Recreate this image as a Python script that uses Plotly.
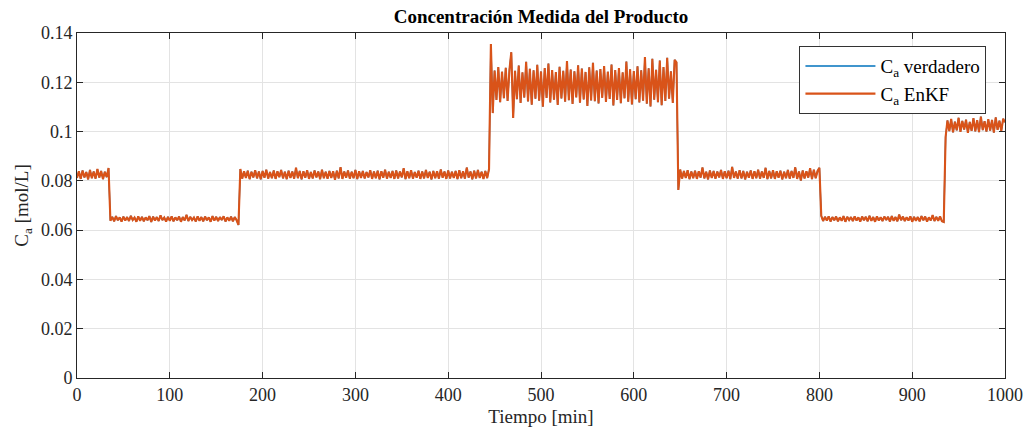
import numpy as np
import plotly.graph_objects as go

# ---------------- data ----------------
sample_period_min = 2
seg_start_min = [0, 36, 176, 446, 648, 802, 936]

seg_a = [0.0812, 0.0839, 0.0808, 0.0842, 0.0814, 0.0836, 0.0806, 0.0844, 0.0811, 0.0838,
         0.0809, 0.0848, 0.0813, 0.0840, 0.0807, 0.0837, 0.0815, 0.0852]
seg_b = [0.0638, 0.0654, 0.0636, 0.0657, 0.0640, 0.0652, 0.0635, 0.0655, 0.0639, 0.0653,
         0.0637, 0.0658, 0.0641, 0.0651, 0.0634, 0.0656, 0.0638, 0.0654, 0.0636, 0.0652,
         0.0640, 0.0657, 0.0633, 0.0655, 0.0639, 0.0653, 0.0637, 0.0660, 0.0641, 0.0651,
         0.0635, 0.0654, 0.0638, 0.0656, 0.0636, 0.0652, 0.0640, 0.0655, 0.0634, 0.0653,
         0.0639, 0.0662, 0.0637, 0.0654, 0.0641, 0.0651, 0.0635, 0.0656, 0.0638, 0.0653,
         0.0636, 0.0655, 0.0640, 0.0652, 0.0634, 0.0657, 0.0639, 0.0654, 0.0637, 0.0653,
         0.0641, 0.0656, 0.0635, 0.0652, 0.0638, 0.0655, 0.0636, 0.0653, 0.0640, 0.0621]
seg_c = [0.0848, 0.0809, 0.0839, 0.0812, 0.0841, 0.0807, 0.0837, 0.0814, 0.0843, 0.0810,
         0.0838, 0.0806, 0.0840, 0.0813, 0.0845, 0.0809, 0.0836, 0.0811, 0.0842, 0.0808,
         0.0839, 0.0815, 0.0844, 0.0810, 0.0837, 0.0807, 0.0841, 0.0812, 0.0838, 0.0809,
         0.0853, 0.0811, 0.0840, 0.0806, 0.0839, 0.0813, 0.0843, 0.0808, 0.0836, 0.0810,
         0.0842, 0.0814, 0.0838, 0.0807, 0.0845, 0.0811, 0.0837, 0.0809, 0.0840, 0.0812,
         0.0839, 0.0804, 0.0841, 0.0810, 0.0856, 0.0808, 0.0838, 0.0813, 0.0842, 0.0809,
         0.0837, 0.0811, 0.0844, 0.0807, 0.0839, 0.0812, 0.0840, 0.0810, 0.0836, 0.0814,
         0.0843, 0.0808, 0.0838, 0.0811, 0.0841, 0.0806, 0.0839, 0.0813, 0.0845, 0.0809,
         0.0837, 0.0812, 0.0840, 0.0808, 0.0842, 0.0810, 0.0838, 0.0814, 0.0851, 0.0807,
         0.0839, 0.0811, 0.0843, 0.0809, 0.0836, 0.0813, 0.0841, 0.0808, 0.0838, 0.0810,
         0.0844, 0.0812, 0.0837, 0.0806, 0.0840, 0.0811, 0.0839, 0.0809, 0.0846, 0.0813,
         0.0838, 0.0808, 0.0842, 0.0810, 0.0837, 0.0812, 0.0840, 0.0807, 0.0843, 0.0811,
         0.0839, 0.0809, 0.0854, 0.0813, 0.0838, 0.0806, 0.0841, 0.0810, 0.0844, 0.0812,
         0.0837, 0.0808, 0.0840, 0.0811, 0.0848]
seg_d = [0.1355, 0.1075, 0.1248, 0.1128, 0.1262, 0.1119, 0.1243, 0.1135, 0.1259, 0.1124,
         0.1251, 0.1322, 0.1055, 0.1247, 0.1131, 0.1268, 0.1116, 0.1240, 0.1138, 0.1283,
         0.1122, 0.1255, 0.1109, 0.1249, 0.1133, 0.1271, 0.1125, 0.1244, 0.1101, 0.1258,
         0.1136, 0.1276, 0.1118, 0.1250, 0.1129, 0.1241, 0.1108, 0.1263, 0.1134, 0.1247,
         0.1121, 0.1286, 0.1127, 0.1252, 0.1112, 0.1245, 0.1139, 0.1269, 0.1117, 0.1256,
         0.1130, 0.1242, 0.1104, 0.1261, 0.1126, 0.1279, 0.1123, 0.1248, 0.1114, 0.1254,
         0.1137, 0.1266, 0.1120, 0.1243, 0.1132, 0.1272, 0.1106, 0.1250, 0.1128, 0.1258,
         0.1115, 0.1240, 0.1135, 0.1284, 0.1121, 0.1253, 0.1110, 0.1246, 0.1131, 0.1265,
         0.1118, 0.1249, 0.1125, 0.1302, 0.1113, 0.1257, 0.1102, 0.1295, 0.1129, 0.1251,
         0.1119, 0.1288, 0.1107, 0.1262, 0.1124, 0.1299, 0.1133, 0.1245, 0.1116, 0.1291,
         0.1281]
seg_e = [0.0763, 0.0846, 0.0809, 0.0840, 0.0812, 0.0843, 0.0807, 0.0838, 0.0811, 0.0841,
         0.0808, 0.0839, 0.0813, 0.0854, 0.0810, 0.0837, 0.0806, 0.0842, 0.0812, 0.0840,
         0.0809, 0.0838, 0.0814, 0.0844, 0.0808, 0.0839, 0.0811, 0.0841, 0.0807, 0.0857,
         0.0812, 0.0838, 0.0809, 0.0843, 0.0810, 0.0840, 0.0806, 0.0837, 0.0813, 0.0842,
         0.0808, 0.0839, 0.0811, 0.0845, 0.0809, 0.0838, 0.0812, 0.0853, 0.0807, 0.0840,
         0.0810, 0.0843, 0.0808, 0.0839, 0.0813, 0.0841, 0.0806, 0.0837, 0.0811, 0.0844,
         0.0809, 0.0840, 0.0812, 0.0855, 0.0808, 0.0838, 0.0801, 0.0842, 0.0810, 0.0839,
         0.0813, 0.0851, 0.0807, 0.0845, 0.0811, 0.0840, 0.0853]
seg_f = [0.0658, 0.0637, 0.0654, 0.0639, 0.0656, 0.0635, 0.0653, 0.0640, 0.0655, 0.0636,
         0.0652, 0.0638, 0.0657, 0.0634, 0.0654, 0.0641, 0.0653, 0.0637, 0.0656, 0.0639,
         0.0652, 0.0635, 0.0655, 0.0640, 0.0654, 0.0636, 0.0658, 0.0638, 0.0653, 0.0634,
         0.0656, 0.0639, 0.0652, 0.0637, 0.0655, 0.0641, 0.0654, 0.0635, 0.0657, 0.0638,
         0.0653, 0.0636, 0.0663, 0.0640, 0.0655, 0.0637, 0.0652, 0.0639, 0.0656, 0.0634,
         0.0654, 0.0638, 0.0653, 0.0636, 0.0657, 0.0640, 0.0655, 0.0635, 0.0652, 0.0639,
         0.0661, 0.0637, 0.0654, 0.0638, 0.0656, 0.0636, 0.0633]
seg_g = [0.0978, 0.1045, 0.1002, 0.1051, 0.0997, 0.1040, 0.1005, 0.1056, 0.0999, 0.1043,
         0.1008, 0.1048, 0.0995, 0.1039, 0.1003, 0.1054, 0.1001, 0.1046, 0.0998, 0.1061,
         0.1006, 0.1042, 0.1000, 0.1050, 0.1004, 0.1047, 0.0996, 0.1058, 0.1007, 0.1044,
         0.1002, 0.1052, 0.1038]

segments = [seg_a, seg_b, seg_c, seg_d, seg_e, seg_f, seg_g]
enkf_t = []
enkf_ca = []
for start, seg in zip(seg_start_min, segments):
    enkf_t.extend(start + sample_period_min * np.arange(len(seg)))
    enkf_ca.extend(seg)

# the true trace lies right under the EnKF estimate in the reference
true_t = enkf_t
true_ca = enkf_ca

# ---------------- figure ----------------
SERIF = "Liberation Serif"
AXIS_COLOR = "#262626"

fig = go.Figure()
fig.add_trace(go.Scatter(x=true_t, y=true_ca, mode="lines",
                         name="C<sub>a</sub> verdadero",
                         line=dict(color="#0072BD", width=1.4)))
fig.add_trace(go.Scatter(x=enkf_t, y=enkf_ca, mode="lines",
                         name="C<sub>a</sub> EnKF",
                         line=dict(color="#D95319", width=2.1)))

axis_common = dict(
    showline=True, linecolor=AXIS_COLOR, linewidth=1, mirror="ticks",
    ticks="inside", ticklen=6, tickcolor=AXIS_COLOR, tickwidth=1,
    showgrid=True, gridcolor="#e3e3e3", gridwidth=1, zeroline=False,
    automargin=False,
    tickfont=dict(family=SERIF, size=18, color=AXIS_COLOR),
)

fig.update_layout(
    width=1029, height=432,
    margin=dict(l=77, r=24, t=33, b=54),
    paper_bgcolor="white", plot_bgcolor="white",
    font=dict(family=SERIF, size=18, color=AXIS_COLOR),
    title=dict(text="<b>Concentración Medida del Producto</b>",
               font=dict(family=SERIF, size=19, color="black"),
               x=(77 + 1005) / 2 / 1029, xanchor="center", y=0.962, yanchor="middle",
               automargin=False),
    xaxis=dict(range=[0, 1000], dtick=100,
               title=dict(text="Tiempo [min]", standoff=6,
                          font=dict(family=SERIF, size=19, color=AXIS_COLOR)),
               **axis_common),
    yaxis=dict(range=[0, 0.14], dtick=0.02,
               title=dict(text="C<sub>a</sub> [mol/L]", standoff=7,
                          font=dict(family=SERIF, size=19, color=AXIS_COLOR)),
               **axis_common),
    legend=dict(x=0.98, y=0.962, xanchor="right", yanchor="top",
                bgcolor="white", bordercolor="#333333", borderwidth=1,
                font=dict(family=SERIF, size=19, color="black"),
                itemwidth=70, tracegroupgap=6),
    showlegend=True,
)

fig.write_html("out.html")
